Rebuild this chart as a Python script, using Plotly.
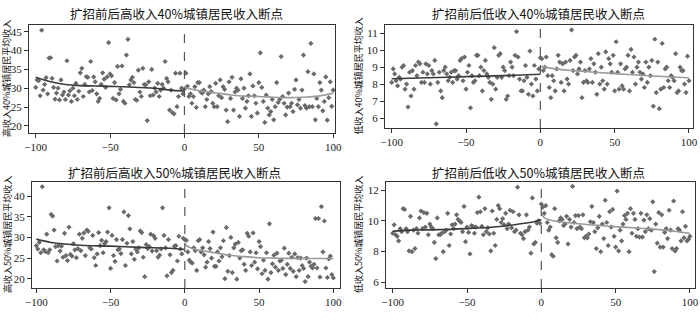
import plotly.graph_objects as go

x_left = list(range(-100, 1))
x_right = list(range(1, 101))

titles = ["扩招前后高收入40%城镇居民收入断点", "扩招前后低收入40%城镇居民收入断点",
          "扩招前后高收入50%城镇居民收入断点", "扩招前后低收入50%城镇居民收入断点"]
ytitles = ["高收入40%城镇居民平均收入", "低收入40%城镇居民平均收入",
           "高收入50%城镇居民平均收入", "低收入50%城镇居民平均收入"]
x_ticks = [-100, -50, 0, 50, 100]
y_ticks = [[20, 25, 30, 35, 40, 45], [6, 7, 8, 9, 10, 11], [20, 25, 30, 35, 40], [6, 8, 10, 12]]

# Panel 1: high income 40%
p1_left = [30.2, 32.2, 32.0, 28.0, 45.4, 29.5, 31.0, 32.8, 28.5, 38.0, 38.1, 32.6, 30.2, 27.1, 28.7, 30.0,
           26.9, 32.2, 28.2, 29.0, 27.0, 37.3, 28.2, 29.3, 26.5, 30.0, 28.0, 31.3, 27.0, 29.2, 34.1, 35.3,
           27.8, 31.0, 33.1, 32.9, 29.0, 37.1, 29.4, 33.0, 31.7, 28.5, 26.5, 27.3, 31.0, 34.1, 32.4, 30.2,
           33.0, 42.1, 33.8, 33.3, 27.3, 31.5, 26.9, 35.8, 28.5, 29.7, 35.9, 26.5, 26.0, 38.8, 43.0, 30.9,
           32.2, 32.9, 31.5, 27.0, 26.8, 34.8, 29.0, 27.8, 35.3, 31.0, 30.9, 21.4, 31.7, 28.0, 35.0, 28.2,
           30.0, 29.0, 31.3, 27.8, 29.5, 31.0, 30.0, 37.1, 32.6, 31.7, 24.2, 29.5, 23.5, 23.2, 34.0, 25.1,
           27.8, 34.0, 30.0, 28.5, 29.8]
p1_right = [34.0, 30.5, 27.8, 28.5, 26.0, 27.8, 30.4, 24.9, 31.5, 31.5, 29.0, 28.7, 29.5, 25.1, 27.0, 28.5,
            30.4, 29.1, 26.0, 25.1, 31.3, 25.1, 28.0, 32.2, 27.5, 30.4, 29.7, 24.2, 21.1, 31.7, 27.3, 32.9,
            24.2, 29.0, 30.0, 29.5, 22.5, 32.5, 27.3, 30.0, 24.7, 26.5, 28.0, 33.8, 22.5, 30.6, 28.0, 26.0,
            23.4, 31.5, 39.4, 30.2, 26.5, 20.9, 28.2, 24.7, 22.9, 23.8, 27.0, 21.6, 25.1, 31.5, 26.2, 27.0,
            38.4, 27.8, 26.0, 22.9, 25.0, 28.7, 25.1, 26.0, 23.8, 29.7, 32.2, 25.6, 27.0, 24.7, 29.5, 38.8,
            25.4, 24.7, 34.4, 25.1, 41.9, 25.1, 33.8, 21.6, 27.3, 25.1, 31.5, 29.5, 24.0, 26.5, 33.0, 21.5,
            27.5, 31.7, 25.2, 29.5]

# Panel 2: low income 40%
p2_left = [8.1, 8.9, 8.6, 8.2, 7.9, 8.4, 8.3, 9.0, 9.1, 7.7, 8.0, 6.65, 8.7, 7.3, 8.8, 7.7, 9.1, 8.5, 9.3,
           9.2, 8.1, 8.7, 8.1, 9.2, 8.6, 9.1, 8.0, 8.8, 8.6, 9.4, 5.65, 8.1, 8.7, 7.6, 7.2, 8.8, 9.0, 8.6,
           8.2, 8.4, 8.7, 8.1, 8.8, 8.8, 8.3, 8.5, 9.4, 9.5, 8.2, 9.6, 7.7, 8.7, 9.1, 6.6, 8.5, 8.1, 8.2,
           9.7, 9.7, 8.5, 9.0, 7.6, 8.8, 9.4, 8.6, 8.4, 8.1, 7.1, 8.0, 10.15, 7.7, 8.4, 9.7, 9.8, 8.4, 9.0,
           8.8, 7.1, 7.3, 8.5, 9.3, 9.0, 8.5, 9.7, 11.1, 9.6, 8.3, 7.6, 7.6, 8.2, 9.1, 8.4, 7.4, 9.95, 8.0,
           7.3, 9.1, 8.3, 7.6, 8.9, 9.55]
p2_right = [9.5, 8.8, 9.0, 9.6, 8.5, 7.8, 7.2, 8.5, 8.2, 7.6, 8.9, 9.7, 9.3, 8.1, 9.2, 7.6, 9.3, 8.3, 8.0,
            9.4, 11.2, 8.8, 9.6, 9.7, 8.6, 8.9, 9.3, 7.2, 8.1, 8.8, 8.2, 8.1, 8.9, 9.5, 8.1, 9.2, 8.7, 7.4,
            9.8, 8.0, 9.0, 8.2, 7.7, 9.9, 8.0, 9.5, 9.2, 8.7, 9.7, 7.6, 10.5, 8.7, 7.7, 9.2, 7.9, 7.7, 8.9,
            9.0, 9.7, 7.6, 10.05, 8.7, 9.6, 8.0, 9.0, 9.3, 8.7, 8.3, 8.6, 7.8, 9.3, 8.1, 9.0, 8.5, 9.4, 6.7,
            10.65, 7.5, 9.3, 6.55, 7.7, 10.4, 7.8, 8.9, 9.0, 8.2, 7.8, 8.5, 8.4, 8.2, 9.8, 7.5, 7.6, 9.0,
            8.8, 8.8, 8.0, 7.5, 9.65, 8.2]

# Panel 3: high income 50%
p3_left = [28.0, 27.2, 28.8, 26.3, 42.3, 27.0, 26.6, 30.8, 26.3, 27.0, 35.6, 35.2, 31.8, 27.8, 24.3, 28.0,
           26.7, 27.9, 25.2, 31.0, 25.6, 24.4, 32.5, 25.9, 25.5, 28.5, 27.0, 25.1, 27.3, 30.8, 26.8, 29.8,
           31.1, 25.6, 31.8, 31.5, 27.5, 27.2, 30.5, 25.1, 23.2, 26.0, 31.2, 28.0, 29.3, 26.3, 28.5, 29.0,
           31.3, 37.2, 22.5, 30.5, 25.6, 24.2, 29.5, 27.0, 27.2, 26.1, 29.5, 36.2, 23.2, 28.6, 35.3, 32.1,
           26.0, 29.0, 24.7, 27.2, 26.5, 27.5, 31.6, 31.2, 25.2, 20.5, 28.3, 27.3, 27.8, 30.8, 26.7, 30.4,
           29.8, 26.8, 25.2, 25.7, 27.2, 37.2, 30.5, 27.5, 20.7, 29.5, 25.8, 21.5, 22.0, 27.9, 28.0, 24.3,
           30.3, 27.2, 26.0, 29.8, 29.5]
p3_right = [29.3, 26.5, 24.5, 24.0, 23.8, 27.5, 26.8, 22.0, 29.2, 29.5, 26.5, 27.5, 25.8, 22.8, 24.0, 29.0,
            27.3, 25.0, 31.3, 23.0, 23.0, 26.5, 24.3, 27.5, 25.3, 29.2, 20.0, 32.4, 21.8, 25.6, 30.0, 21.5,
            27.5, 28.4, 19.9, 28.8, 25.0, 26.8, 27.0, 23.5, 22.0, 31.0, 30.3, 26.5, 23.2, 31.1, 24.0, 26.3,
            22.4, 29.0, 27.8, 21.2, 24.5, 22.0, 26.3, 19.9, 33.3, 21.5, 23.6, 25.7, 22.8, 26.2, 22.0, 24.3,
            24.5, 22.5, 27.4, 21.0, 23.5, 26.2, 22.5, 25.2, 21.8, 26.0, 20.5, 25.1, 22.0, 25.0, 23.2, 22.5,
            19.3, 25.0, 20.5, 24.0, 23.0, 22.6, 23.5, 34.6, 22.6, 34.6, 20.4, 37.5, 26.5, 34.0, 22.6, 20.3,
            24.8, 25.5, 21.0, 20.2]

# Panel 4: low income 50%
p4_left = [9.2, 9.75, 9.1, 9.0, 8.7, 9.5, 9.3, 10.8, 10.75, 9.5, 9.3, 8.05, 10.3, 8.0, 9.4, 8.2, 9.5, 9.2,
           10.2, 10.65, 9.5, 10.55, 9.6, 10.5, 9.1, 9.8, 9.6, 9.5, 8.6, 7.55, 10.2, 9.1, 9.1, 9.2, 8.0, 9.3,
           9.4, 10.5, 8.4, 9.15, 9.75, 9.5, 9.8, 10.4, 10.1, 10.0, 9.9, 9.3, 10.95, 8.65, 9.6, 9.25, 7.85,
           9.7, 9.65, 9.2, 9.6, 10.55, 11.55, 10.6, 9.65, 9.1, 10.8, 9.3, 9.55, 9.15, 8.05, 10.65, 9.2, 8.4,
           10.1, 11.0, 10.8, 9.9, 10.15, 9.75, 10.5, 9.5, 9.8, 10.7, 9.55, 10.6, 9.3, 9.4, 12.2, 10.4, 9.2,
           9.1, 8.85, 9.3, 10.4, 9.4, 9.6, 7.9, 11.5, 8.5, 8.6, 9.85, 10.0, 9.85, 11.1]
p4_right = [10.9, 10.5, 11.0, 9.9, 9.4, 9.6, 7.8, 7.7, 10.8, 8.9, 8.6, 10.0, 10.2, 10.1, 9.7, 9.8, 10.3,
            8.5, 10.1, 9.6, 12.25, 9.9, 10.35, 9.5, 10.35, 9.6, 9.5, 10.4, 8.9, 9.0, 8.9, 9.15, 9.95, 10.95,
            9.9, 9.3, 8.2, 9.55, 10.3, 8.0, 9.8, 8.85, 11.35, 9.9, 8.4, 10.6, 9.6, 10.75, 9.0, 8.3, 11.95,
            8.05, 9.4, 8.7, 9.8, 10.35, 10.1, 10.5, 8.0, 10.8, 9.2, 10.5, 10.1, 9.0, 9.5, 8.95, 10.5, 8.95,
            10.05, 9.3, 10.4, 9.5, 10.15, 9.4, 11.25, 6.7, 9.8, 8.55, 10.55, 8.3, 10.4, 8.3, 9.25, 9.5, 8.85,
            10.7, 9.4, 8.2, 11.3, 8.05, 8.2, 9.5, 9.4, 8.7, 10.6, 8.9, 9.65, 8.7, 8.8, 9.0]

# Fitted curves (at knots)
fit_left_x = [[-100, -90, -80, -70, -60, -50, -40, -30, -20, -10, 0],
              [-100, -75, -50, -25, 0],
              [-100, -90, -80, -70, -50, -30, -10, 0],
              [-100, -90, -75, -50, -30, -15, -5, 0]]
fit_left_y = [[32.9, 31.7, 31.0, 30.7, 30.6, 30.5, 30.4, 30.2, 30.0, 29.5, 29.3],
              [8.32, 8.38, 8.44, 8.5, 8.58],
              [29.6, 28.8, 28.4, 28.1, 27.9, 27.6, 27.4, 27.1],
              [9.32, 9.4, 9.42, 9.5, 9.62, 9.8, 9.95, 10.1]]
fit_right_x = [[0, 10, 20, 30, 40, 50, 60, 70, 80, 90, 100],
               [0, 10, 25, 50, 75, 100],
               [0, 5, 10, 20, 30, 40, 50, 60, 75, 100],
               [0, 3, 10, 25, 50, 75, 90, 100]]
fit_right_y = [[30.2, 29.3, 28.8, 28.3, 27.9, 27.8, 27.6, 27.5, 27.6, 27.9, 28.7],
               [9.05, 8.9, 8.78, 8.62, 8.48, 8.38],
               [28.3, 27.3, 26.9, 26.3, 25.7, 25.35, 25.1, 25.0, 24.9, 24.9],
               [10.42, 10.15, 9.98, 9.82, 9.63, 9.47, 9.33, 9.18]]

lefts = [p1_left, p2_left, p3_left, p4_left]
rights = [p1_right, p2_right, p3_right, p4_right]

W, H = 700, 323
# pixel boxes of plotting areas: (x0, x1, y0_top, y1_bottom)
boxes = [(29, 335, 25, 133), (385, 693, 25, 128), (32, 340, 182, 288), (386, 695, 182, 288)]
xranges = [[-104.5, 101.2], [-104.5, 102.7], [-102.9, 104.5], [-104.5, 103.4]]
yranges = [[18.1, 46.8], [5.41, 11.49], [17.75, 43.45], [5.63, 12.54]]
title_pos = [(177, 13), (538, 13), (174, 172), (538, 172)]
ytitle_x = [7, 358, 7, 358]

fig = go.Figure()
layout = {}
annotations = []
shapes = []
pt_color = "#6a6a6a"
for i in range(4):
    n = "" if i == 0 else str(i + 1)
    xa, ya = "x" + n, "y" + n
    fig.add_trace(go.Scatter(x=x_left + x_right, y=lefts[i] + rights[i], mode="markers",
                             marker=dict(symbol="diamond", size=4, color=pt_color),
                             xaxis=xa, yaxis=ya, showlegend=False, hoverinfo="skip"))
    fig.add_trace(go.Scatter(x=fit_left_x[i], y=fit_left_y[i], mode="lines",
                             line=dict(color="#3a3a3a", width=1.6, shape="spline"),
                             xaxis=xa, yaxis=ya, showlegend=False))
    fig.add_trace(go.Scatter(x=fit_right_x[i], y=fit_right_y[i], mode="lines",
                             line=dict(color="#9a9a9a", width=1.6, shape="spline"),
                             xaxis=xa, yaxis=ya, showlegend=False))
    x0, x1, yt, yb = boxes[i]
    axis_common = dict(showgrid=False, zeroline=False, showline=True, mirror=True, automargin=False,
                       linecolor="#333", linewidth=1, ticks="outside", ticklen=4,
                       tickcolor="#333", tickfont=dict(family="Liberation Serif", size=11, color="#222"))
    layout["xaxis" + n] = dict(domain=[x0 / W, x1 / W], anchor=ya, range=xranges[i],
                               tickvals=x_ticks, ticktext=["\u2212100", "\u221250", "0", "50", "100"],
                               **axis_common)
    layout["yaxis" + n] = dict(domain=[1 - yb / H, 1 - yt / H], anchor=xa, range=yranges[i],
                               tickvals=y_ticks[i], **axis_common)
    shapes.append(dict(type="line", xref=xa, yref=ya + " domain", x0=0, x1=0, y0=0, y1=1,
                       line=dict(color="#555", width=1.2, dash="dash")))
    tx, ty = title_pos[i]
    annotations.append(dict(text=titles[i], x=tx / W, y=1 - ty / H, xref="paper", yref="paper",
                            xanchor="center", yanchor="middle", showarrow=False,
                            font=dict(family="Noto Sans CJK SC", size=12.5, color="#111")))
    annotations.append(dict(text=ytitles[i], x=ytitle_x[i] / W, y=1 - ((yt + yb) / 2) / H,
                            xref="paper", yref="paper", xanchor="center", yanchor="middle",
                            textangle=-90, showarrow=False,
                            font=dict(family="Noto Sans CJK SC", size=9, color="#111")))

fig.update_layout(width=W, height=H, margin=dict(l=0, r=0, t=0, b=0),
                  paper_bgcolor="white", plot_bgcolor="white",
                  annotations=annotations, shapes=shapes, **layout)
fig.write_html("out.html", config={"displayModeBar": False},
               post_script="document.body.style.margin='0';document.body.style.overflow='hidden';")
